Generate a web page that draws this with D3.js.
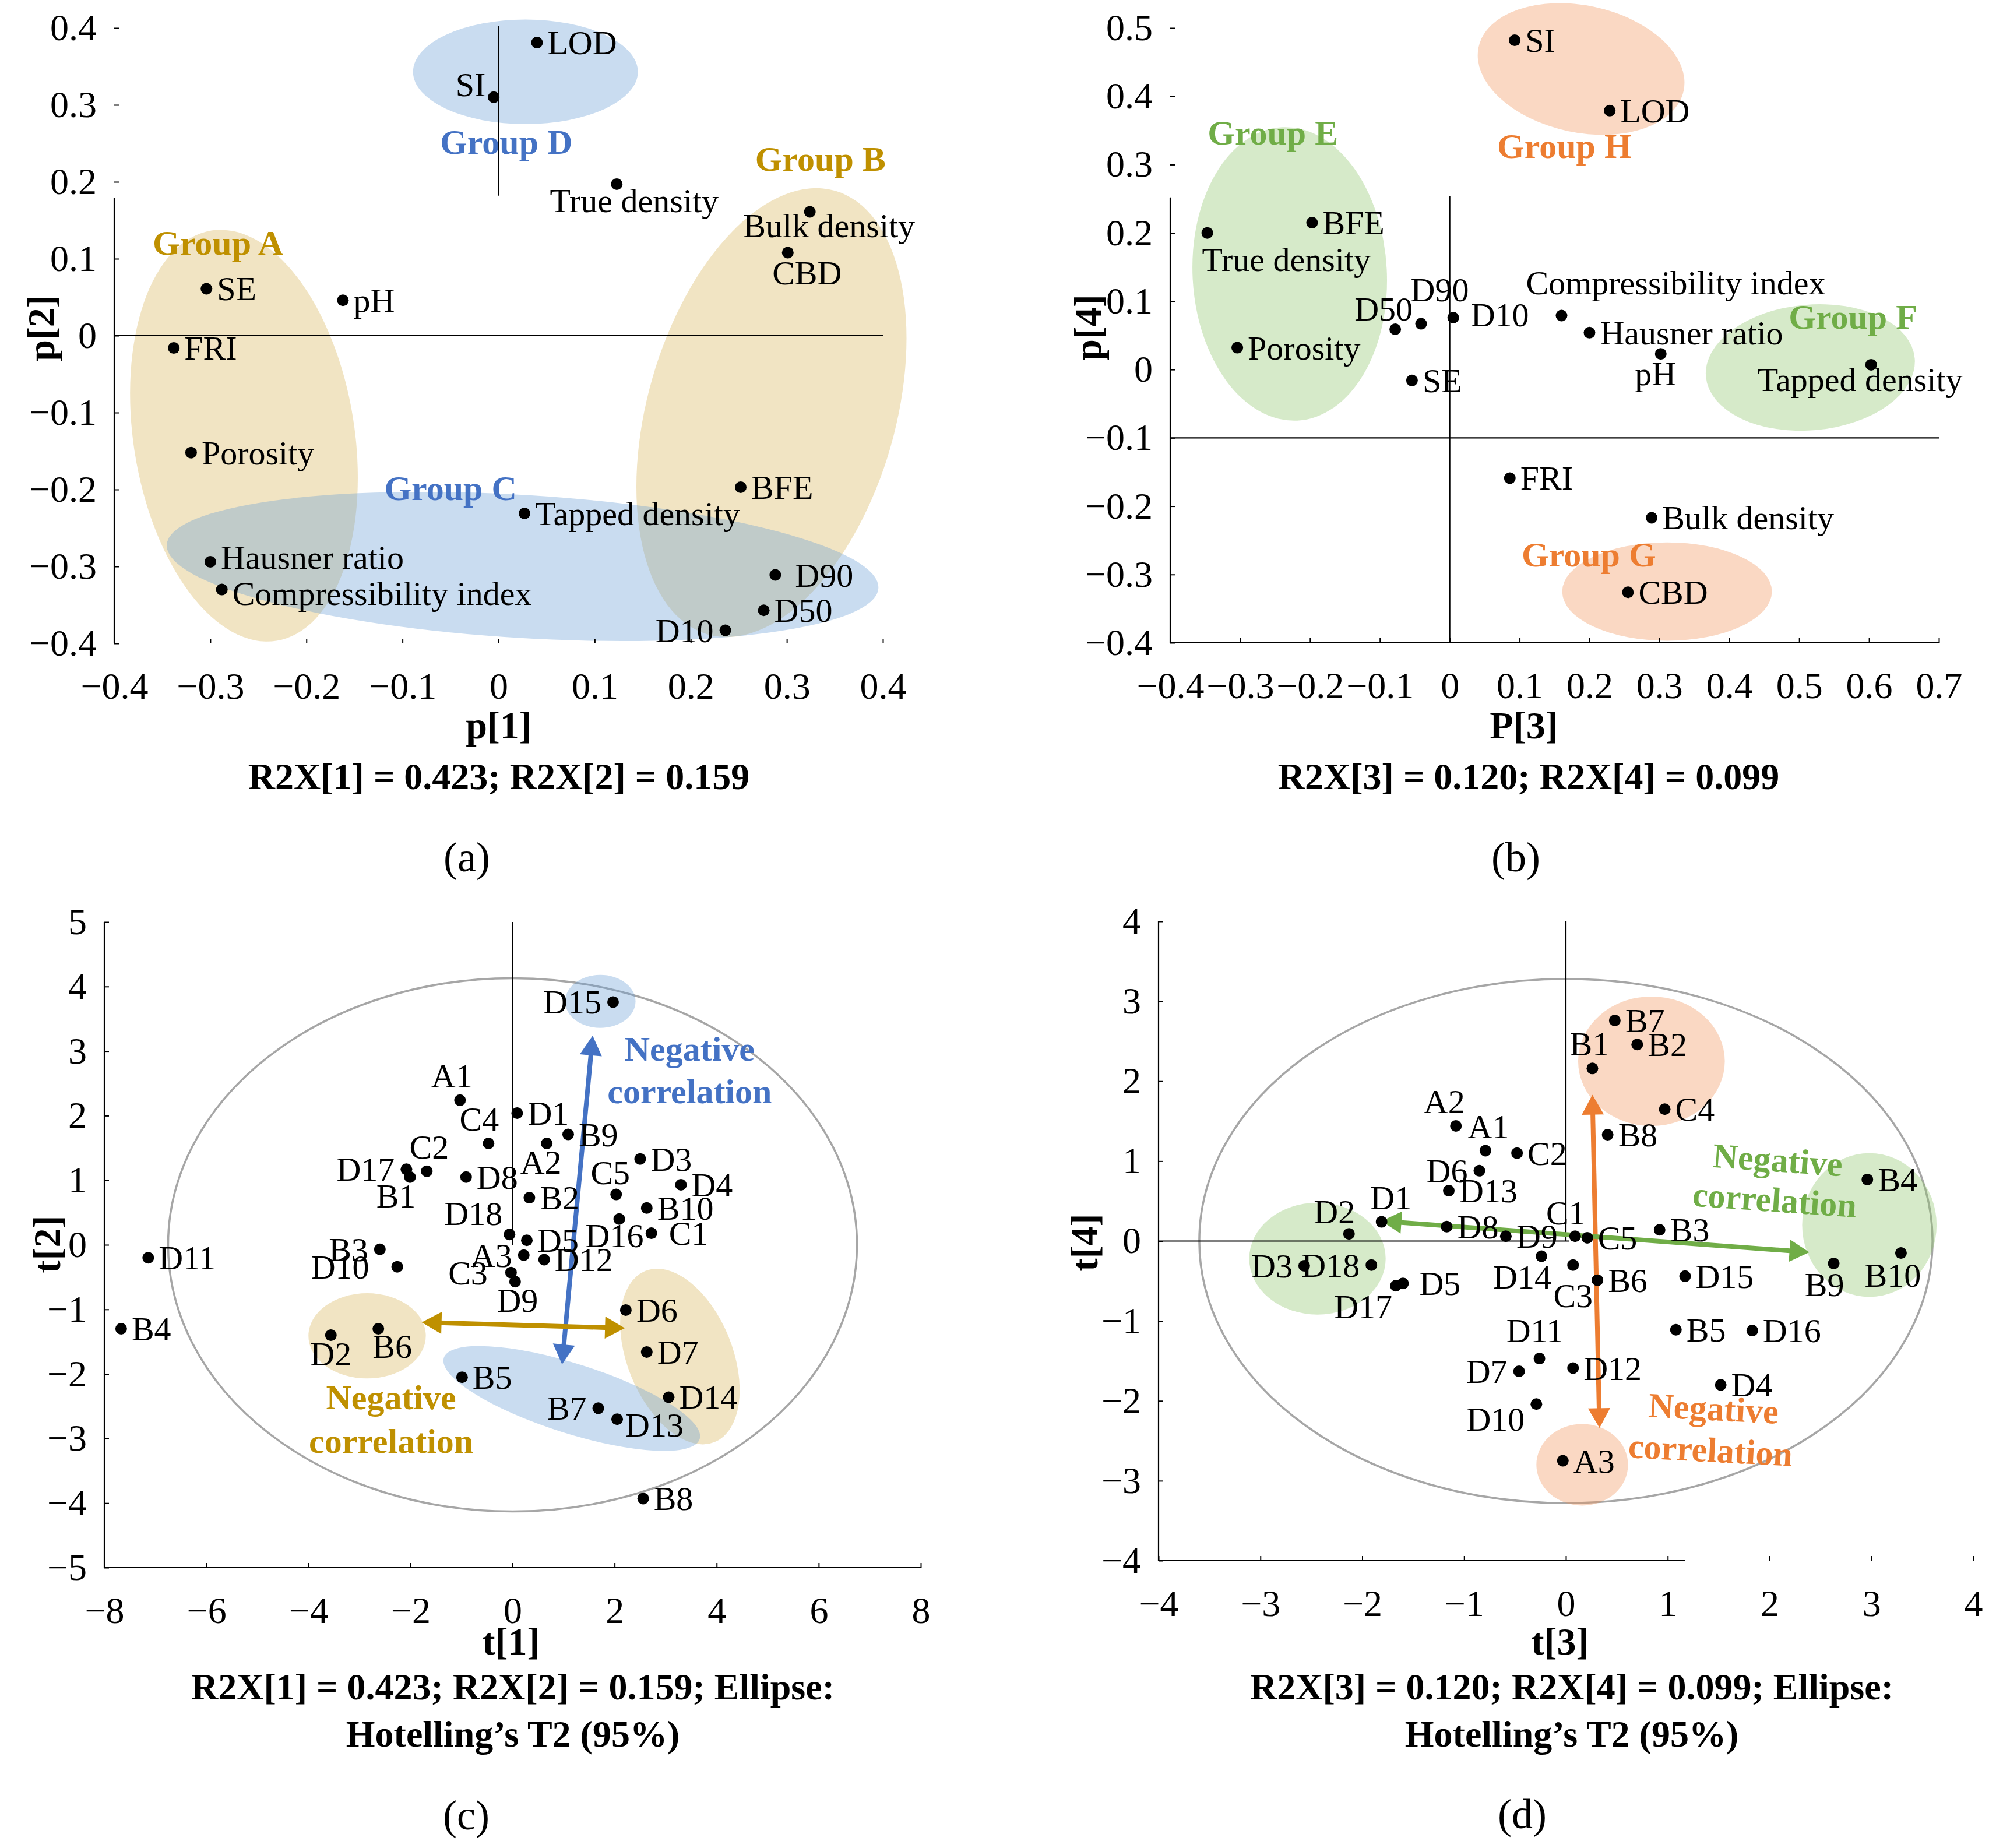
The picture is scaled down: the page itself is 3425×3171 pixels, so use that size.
<!DOCTYPE html>
<html>
<head>
<meta charset="utf-8">
<script src="https://cdn.jsdelivr.net/npm/d3@7"></script>
<style>
body { margin: 0; background: #fff; }
svg { display: block; }
</style>
</head>
<body>
<svg id="chart"></svg>
<script>
// ---- (a) loadings p[1] / p[2]
const varsA = ["LOD","SI","True density","Bulk density","CBD","SE","pH","FRI","Porosity","BFE","Tapped density","Hausner ratio","Compressibility index","D90","D50","D10"]
const p1 = [0.040,-0.005,0.123,0.324,0.301,-0.304,-0.162,-0.338,-0.320,0.252,0.027,-0.300,-0.288,0.288,0.276,0.236]
const p2 = [0.381,0.310,0.197,0.161,0.108,0.061,0.046,-0.016,-0.152,-0.197,-0.231,-0.294,-0.330,-0.311,-0.357,-0.383]
const ticksA_x = [-0.4,-0.3,-0.2,-0.1,0,0.1,0.2,0.3,0.4]
const ticksA_y = [-0.4,-0.3,-0.2,-0.1,0,0.1,0.2,0.3,0.4]

// ---- (b) loadings P[3] / p[4]
const varsB = ["SI","LOD","True density","BFE","D50","D90","D10","Compressibility index","Hausner ratio","pH","Tapped density","Porosity","SE","FRI","Bulk density","CBD"]
const p3 = [0.093,0.229,-0.347,-0.197,-0.078,-0.041,0.005,0.160,0.200,0.302,0.603,-0.304,-0.054,0.086,0.289,0.255]
const p4 = [0.482,0.379,0.200,0.215,0.059,0.067,0.076,0.079,0.054,0.023,0.007,0.032,-0.016,-0.159,-0.217,-0.326]
const ticksB_x = [-0.4,-0.3,-0.2,-0.1,0,0.1,0.2,0.3,0.4,0.5,0.6,0.7]
const ticksB_y = [-0.4,-0.3,-0.2,-0.1,0,0.1,0.2,0.3,0.4,0.5]

// ---- (c) scores t[1] / t[2]
const obsC = ["D15","A1","D1","C4","B9","A2","D3","D17","C2","B1","D8","D4","C5","B2","B10","D16","C1","D18","D5","B3","D10","A3","D12","C3","D9","D11","B4","D6","D2","B6","D7","B5","D14","B7","D13","B8"]
const t1 = [1.97,-1.03,0.09,-0.47,1.09,0.67,2.50,-2.08,-1.68,-2.01,-0.91,3.30,2.03,0.33,2.63,2.09,2.72,-0.06,0.28,-2.60,-2.26,0.22,0.62,-0.03,0.05,-7.14,-7.67,2.22,-3.56,-2.63,2.63,-0.99,3.06,1.68,2.05,2.56]
const t2 = [3.76,2.24,2.04,1.57,1.71,1.57,1.33,1.17,1.14,1.05,1.05,0.93,0.78,0.73,0.57,0.40,0.18,0.16,0.07,-0.07,-0.34,-0.16,-0.23,-0.43,-0.57,-0.20,-1.30,-1.01,-1.40,-1.30,-1.66,-2.05,-2.36,-2.53,-2.70,-3.93]
const ticksC_x = [-8,-6,-4,-2,0,2,4,6,8]
const ticksC_y = [-5,-4,-3,-2,-1,0,1,2,3,4,5]

// ---- (d) scores t[3] / t[4]
const obsD = ["B7","B2","B1","C4","B8","A2","A1","C2","D6","D13","D1","D2","D8","D9","C1","C5","B3","B4","B9","B10","D3","D18","D17","D5","D14","C3","B6","D15","B5","D16","D11","D7","D12","D4","D10","A3"]
const t3 = [0.48,0.70,0.26,0.97,0.41,-1.08,-0.79,-0.48,-0.85,-1.15,-1.81,-2.13,-1.17,-0.59,0.09,0.21,0.92,2.96,2.63,3.29,-2.57,-1.91,-1.67,-1.60,-0.24,0.07,0.31,1.17,1.08,1.83,-0.26,-0.46,0.07,1.52,-0.29,-0.03]
const t4 = [2.76,2.46,2.16,1.65,1.33,1.44,1.13,1.10,0.88,0.63,0.24,0.09,0.18,0.06,0.06,0.04,0.14,0.77,-0.28,-0.15,-0.31,-0.30,-0.56,-0.53,-0.19,-0.30,-0.49,-0.44,-1.11,-1.12,-1.47,-1.63,-1.59,-1.80,-2.04,-2.75]
const ticksD_x = [-4,-3,-2,-1,0,1,2,3,4]
const ticksD_y = [-4,-3,-2,-1,0,1,2,3,4]

// groups: cx, cy, rx, ry (data units), tilt, kind
const ellA = [[-0.265,-0.13,0.115,0.27,-9,"tan"],[0.284,-0.10,0.129,0.30,16,"tan"],[0.025,-0.30,0.371,0.093,3.5,"blue"],[0.028,0.343,0.117,0.068,0,"blue"]]
const ellB = [[-0.229,0.14,0.139,0.215,-3,"green"],[0.188,0.44,0.150,0.093,12,"orange"],[0.516,0.003,0.150,0.092,-5,"green"],[0.311,-0.325,0.150,0.072,0,"orange"]]
const ellC = [[1.72,3.77,0.69,0.41,0,"blue"],[-2.85,-1.41,1.15,0.66,0,"tan"],[3.28,-1.73,1.03,1.43,-22,"tan"],[1.16,-2.38,2.63,0.54,17.6,"blue"]]
const ellD = [[0.84,2.25,0.72,0.81,0,"orange"],[-2.44,-0.22,0.67,0.70,0,"green"],[2.98,0.20,0.66,0.90,0,"green"],[0.16,-2.80,0.45,0.51,0,"orange"]]
const hotC = [0,0,6.75,4.13]
const hotD = [0,0,3.60,3.28]

const grpA = [["Group A",-0.292,0.121,"gold"],["Group B",0.335,0.230,"gold"],["Group C",-0.050,-0.198,"blue"],["Group D",0.008,0.252,"blue"]]
const grpB = [["Group E",-0.253,0.347,"green"],["Group H",0.164,0.328,"orange"],["Group F",0.577,0.078,"green"],["Group G",0.199,-0.270,"orange"]]
const noteC = [["Negative",3.47,3.04,"blue",0],["correlation",3.47,2.38,"blue",0],["Negative",-2.38,-2.36,"gold",0],["correlation",-2.38,-3.03,"gold",0]]
const noteD = [["Negative",2.08,1.02,"green",4],["correlation",2.05,0.52,"green",4],["Negative",1.45,-2.09,"orange",3],["correlation",1.42,-2.61,"orange",3]]

const arrC = [[1.57,3.24,0.97,-1.85,"blue"],[-1.78,-1.20,2.20,-1.29,"gold"]]
const arrD = [[0.26,1.83,0.33,-2.34,"orange"],[-1.81,0.25,2.39,-0.14,"green"]]

// label placement for points
const POS = { r: ["start",18,20], l: ["end",-20,20], t: ["middle",0,-24], b: ["middle",0,54] }
const placeA = ["r",["end",-14,-2],["middle",30,48],["middle",33,44],["middle",33,55],"r","r","r","r","r","r",["start",18,12],["start",18,26],["start",34,20],"r","l"]
const placeB = ["r","r",["start",-9,65],"r",["end",30,-15],["middle",32,-39],["start",30,15],["start",-61,-37],"r",["middle",-9,54],["middle",-19,45],"r","r","r","r","r"]
const placeC = ["l",["middle",-14,-22],"r",["middle",-16,-22],"r",["middle",-10,52],"r","l",["middle",4,-22],["middle",-24,52],"r","r",["middle",-10,-18],"r","r",["middle",-8,48],["start",30,20],["end",-12,-16],"r","l",["end",-48,20],"l","r",["end",-40,20],["middle",4,52],"r","r","r",["middle",0,52],["middle",24,50],"r","r","r","l",["start",14,30],"r"]
const placeD = ["r","r",["middle",-5,-22],"r","r",["middle",-20,-22],["middle",5,-22],"r","l","r",["middle",16,-22],["middle",-25,-18],"r","r",["middle",-16,-20],"r","r","r",["middle",-16,56],["middle",-14,58],"l","l",["middle",-56,56],["start",28,20],["middle",-33,55],["middle",0,72],"r","r","r","r",["middle",-8,-28],"l","r","r",["end",-20,46],"r"]

const FONT = "'Liberation Serif','Times New Roman',serif"
const fills = { tan: "#D1A537", blue: "#6A9FD6", green: "#8EC46A", orange: "#F19458" }
const ink = { gold: "#BF9000", blue: "#4472C4", green: "#70AD47", orange: "#ED7D31" }

const svg = d3.select("#chart").attr("width", 3425).attr("height", 3171)
  .attr("font-family", FONT)
svg.append("rect").attr("width", 3425).attr("height", 3171).attr("fill", "#fff")

function drawPanel(p) {
  const x = d3.scaleLinear().domain(p.xDom).range(p.xRange)
  const y = d3.scaleLinear().domain(p.yDom).range(p.yRange)
  const g = svg.append("g").attr("font-family", FONT)

  if (p.hot) {
    g.append("ellipse")
      .attr("cx", x(p.hot[0])).attr("cy", y(p.hot[1]))
      .attr("rx", x(p.hot[2]) - x(0)).attr("ry", y(0) - y(p.hot[3]))
      .attr("fill", "none").attr("stroke", "#A6A6A6").attr("stroke-width", 3.5)
  }

  g.selectAll(".grp").data(p.ell).join("ellipse")
    .attr("class", "grp")
    .attr("rx", d => x(d[2]) - x(0))
    .attr("ry", d => y(0) - y(d[3]))
    .attr("transform", d => `translate(${x(d[0])},${y(d[1])}) rotate(${d[4]})`)
    .attr("fill", d => fills[d[5]])
    .attr("fill-opacity", d => d[5] == "tan" ? 0.3 : 0.36)

  // axis lines
  g.selectAll(".ax").data(p.lines).join("line")
    .attr("x1", d => x(d[0])).attr("y1", d => y(d[1]))
    .attr("x2", d => x(d[2])).attr("y2", d => y(d[3]))
    .attr("stroke", "#000").attr("stroke-width", 2.2)

  const fmt = v => v === 0 ? "0" : d3.format(p.dec)(v)
  const xa = g.append("g").attr("transform", `translate(0,${y(p.yDom[0])})`)
    .call(d3.axisBottom(x).tickValues(p.xTicks).tickSize(-8).tickPadding(50).tickFormat(fmt))
  const ya = g.append("g").attr("transform", `translate(${x(p.xDom[0])},0)`)
    .call(d3.axisLeft(y).tickValues(p.yTicks).tickSize(-8).tickPadding(30).tickFormat(fmt))
  for (const a of [xa, ya]) {
    a.attr("font-family", FONT).attr("font-size", 64)
    a.select(".domain").remove()
    a.selectAll(".tick line").attr("stroke-width", 2)
    a.selectAll(".tick text").attr("fill", "#000")
  }

  // arrows
  if (p.arr) {
    p.arr.forEach(d => {
      const ax = x(d[0]), ay = y(d[1]), bx = x(d[2]), by = y(d[3])
      const len = Math.hypot(bx - ax, by - ay), ux = (bx - ax) / len, uy = (by - ay) / len
      const hl = 34, hw = 19
      g.append("line")
        .attr("x1", ax + ux * hl * 0.8).attr("y1", ay + uy * hl * 0.8)
        .attr("x2", bx - ux * hl * 0.8).attr("y2", by - uy * hl * 0.8)
        .attr("stroke", ink[d[4]]).attr("stroke-width", 8)
      const head = (tx, ty, dx, dy) => [[tx, ty], [tx - dx * hl - dy * hw, ty - dy * hl + dx * hw], [tx - dx * hl + dy * hw, ty - dy * hl - dx * hw]]
      ;[head(ax, ay, -ux, -uy), head(bx, by, ux, uy)].forEach(pts => {
        g.append("polygon").attr("points", pts.map(q => q.join(",")).join(" ")).attr("fill", ink[d[4]])
      })
    })
  }

  // points + labels
  const pts = p.names.map((n, i) => ({ n, vx: p.vx[i], vy: p.vy[i], pl: p.place[i] }))
  const pos = d => typeof d.pl == "string" ? POS[d.pl] : d.pl
  g.selectAll(".pt").data(pts).join("circle")
    .attr("class", "pt")
    .attr("cx", d => x(d.vx)).attr("cy", d => y(d.vy)).attr("r", 10).attr("fill", "#000")
  g.selectAll(".lab").data(pts).join("text")
    .attr("class", "lab")
    .attr("x", d => x(d.vx) + pos(d)[1])
    .attr("y", d => y(d.vy) + pos(d)[2])
    .attr("text-anchor", d => pos(d)[0])
    .attr("font-size", 58).attr("fill", "#000")
    .text(d => d.n)

  // group names / notes
  g.selectAll(".gl").data(p.notes).join("text")
    .attr("class", "gl")
    .attr("transform", d => `translate(${x(d[1])},${y(d[2])}) rotate(${d[4] || 0})`)
    .attr("dy", "0.35em").attr("text-anchor", "middle")
    .attr("font-size", 60).attr("font-weight", "bold")
    .attr("fill", d => ink[d[3]])
    .text(d => d[0])

  // titles
  const t = p.titles
  g.append("text").attr("x", t.x[0]).attr("y", t.x[1]).attr("dy", "0.35em")
    .attr("text-anchor", "middle").attr("font-size", 66).attr("font-weight", "bold").text(t.x[2])
  g.append("text").attr("transform", `translate(${t.y[0]},${t.y[1]}) rotate(-90)`).attr("dy", "0.35em")
    .attr("text-anchor", "middle").attr("font-size", 66).attr("font-weight", "bold").text(t.y[2])
  t.cap.forEach(c => {
    g.append("text").attr("x", c[0]).attr("y", c[1]).attr("dy", "0.35em")
      .attr("text-anchor", "middle").attr("font-size", 64).attr("font-weight", "bold").text(c[2])
  })
  g.append("text").attr("x", t.tag[0]).attr("y", t.tag[1]).attr("dy", "0.35em")
    .attr("text-anchor", "middle").attr("font-size", 72).text(t.tag[2])
}

drawPanel({
  xDom: [-0.4, 0.4], xRange: [196, 1515], yDom: [-0.4, 0.4], yRange: [1104, 48],
  xTicks: ticksA_x, yTicks: ticksA_y, dec: ".1f",
  names: varsA, vx: p1, vy: p2, place: placeA, ell: ellA, notes: grpA,
  lines: [[-0.4,0.179,-0.4,-0.4],[0,0.403,0,0.182],[-0.4,0,0.4,0]],
  titles: { x: [856,1244,"p[1]"], y: [70,563,"p[2]"], cap: [[856,1332,"R2X[1] = 0.423; R2X[2] = 0.159"]], tag: [801,1470,"(a)"] }
})

drawPanel({
  xDom: [-0.4, 0.7], xRange: [2008, 3327], yDom: [-0.4, 0.5], yRange: [1103, 48],
  xTicks: ticksB_x, yTicks: ticksB_y, dec: ".1f",
  names: varsB, vx: p3, vy: p4, place: placeB, ell: ellB, notes: grpB,
  lines: [[-0.4,0.252,-0.4,-0.4],[-0.4,-0.4,0.7,-0.4],[0,0.254,0,-0.4],[-0.4,-0.1,0.7,-0.1]],
  titles: { x: [2615,1244,"P[3]"], y: [1866,562,"p[4]"], cap: [[2623,1332,"R2X[3] = 0.120; R2X[4] = 0.099"]], tag: [2601,1470,"(b)"] }
})

drawPanel({
  xDom: [-8, 8], xRange: [179, 1580], yDom: [-5, 5], yRange: [2690, 1582],
  xTicks: ticksC_x, yTicks: ticksC_y, dec: "d",
  names: obsC, vx: t1, vy: t2, place: placeC, ell: ellC, notes: noteC, hot: hotC, arr: arrC,
  lines: [[-8,5,-8,-5],[-8,-5,8,-5],[0,5,0,0]],
  titles: { x: [877,2816,"t[1]"], y: [80,2135,"t[2]"], cap: [[880,2894,"R2X[1] = 0.423; R2X[2] = 0.159; Ellipse:"],[880,2975,"Hotelling\u2019s T2 (95%)"]], tag: [800,3114,"(c)"] }
})

drawPanel({
  xDom: [-4, 4], xRange: [1988, 3386], yDom: [-4, 4], yRange: [2678, 1581],
  xTicks: ticksD_x, yTicks: ticksD_y, dec: "d",
  names: obsD, vx: t3, vy: t4, place: placeD, ell: ellD, notes: noteD, hot: hotD, arr: arrD,
  lines: [[-4,4,-4,-4],[-4,-4,1.17,-4],[0,4,0,0],[-4,0,0.03,0]],
  titles: { x: [2677,2816,"t[3]"], y: [1860,2132,"t[4]"], cap: [[2697,2894,"R2X[3] = 0.120; R2X[4] = 0.099; Ellipse:"],[2697,2975,"Hotelling\u2019s T2 (95%)"]], tag: [2612,3112,"(d)"] }
})
</script>
</body>
</html>
